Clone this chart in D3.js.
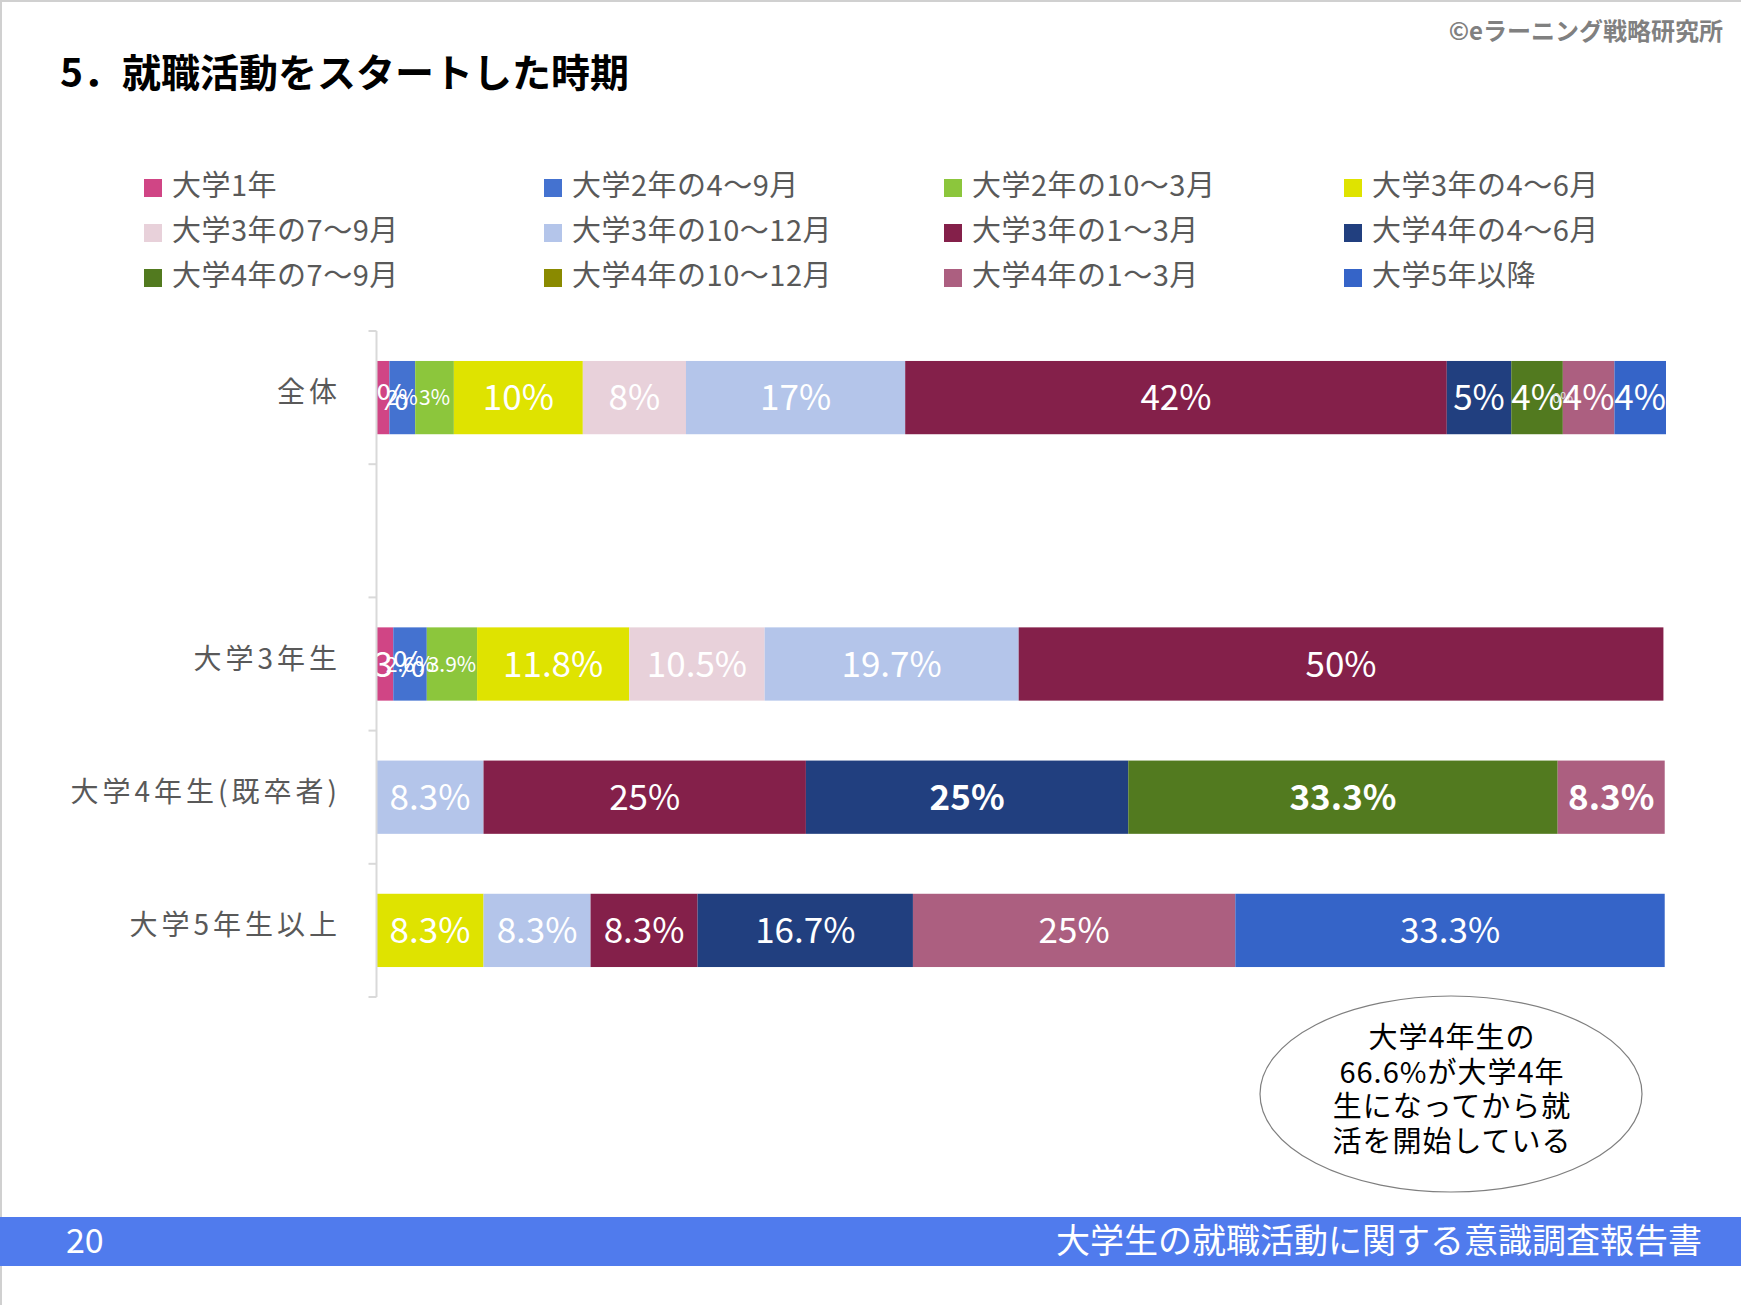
<!DOCTYPE html>
<html>
<head>
<meta charset="utf-8">
<script src="https://cdn.jsdelivr.net/npm/d3@7"></script>
<style>
  body { margin: 0; background: #fff; }
  svg { display: block; font-family: "Noto Sans CJK JP", "Noto Sans", sans-serif; }
</style>
</head>
<body>
<div id="chart"></div>
<script>
// categories (empty slot between 全体 and 大学3年生)
const categories = ['全体', '', '大学3年生', '大学4年生(既卒者)', '大学5年生以上'];

const seriesNames = [
  '大学1年', '大学2年の4～9月', '大学2年の10～3月', '大学3年の4～6月',
  '大学3年の7～9月', '大学3年の10～12月', '大学3年の1～3月', '大学4年の4～6月',
  '大学4年の7～9月', '大学4年の10～12月', '大学4年の1～3月', '大学5年以降'
];

const seriesColors = [
  '#d04585', '#4472d0', '#8cc63c', '#dfe300',
  '#e8d1da', '#b4c5ea', '#84204a', '#213f7f',
  '#527a1f', '#8a8a00', '#ac5f80', '#3564c8'
];

// percentages per category, in series order (null = no value)
const allValues   = [1, 2, 3, 10, 8, 17, 42, 5, 4, 0, 4, 4];
const emptyValues = [null, null, null, null, null, null, null, null, null, null, null, null];
const y3Values    = [1.3, 2.6, 3.9, 11.8, 10.5, 19.7, 50, null, null, null, null, null];
const y4Values    = [null, null, null, null, null, 8.3, 25, 25, 33.3, null, 8.3, null];
const y5Values    = [null, null, null, 8.3, null, 8.3, 8.3, 16.7, null, null, 25, 33.3];

const rowValues = [allValues, emptyValues, y3Values, y4Values, y5Values];

// labels drawn bold (category index : series index)
const boldLabels = ['3:7', '3:8', '3:10'];

const note = ['大学4年生の', '66.6%が大学4年', '生になってから就', '活を開始している'];

const W = 1741, H = 1305;
const svg = d3.select('#chart').append('svg').attr('width', W).attr('height', H);

// page border
svg.append('line').attr('x1', 0).attr('x2', W).attr('y1', 1).attr('y2', 1).attr('stroke', '#d0d0d0').attr('stroke-width', 2);
svg.append('line').attr('x1', 1).attr('x2', 1).attr('y1', 0).attr('y2', H).attr('stroke', '#d0d0d0').attr('stroke-width', 2);

// title + copyright
svg.append('text').attr('x', 60).attr('y', 87)
  .style('font-size', '39px').style('font-weight', 'bold').attr('fill', '#000')
  .text('5．就職活動をスタートした時期');
svg.append('text').attr('x', 1723).attr('y', 40).attr('text-anchor', 'end')
  .style('font-size', '24px').style('font-weight', 'bold').attr('fill', '#808080')
  .text('©eラーニング戦略研究所');

// legend
const legend = svg.append('g');
seriesNames.forEach((name, i) => {
  const col = i % 4, row = Math.floor(i / 4);
  const lg = legend.append('g').attr('transform', `translate(${144 + col * 400},${186 + row * 45})`);
  lg.append('rect').attr('x', 0).attr('y', -7).attr('width', 18).attr('height', 18).attr('fill', seriesColors[i]);
  lg.append('text').attr('x', 28).attr('y', 0).attr('dy', '0.35em')
    .style('font-size', '29px').style('letter-spacing', '0.5px').attr('fill', '#595959').text(name);
});

// scales
const plotLeft = 376.5, plotRight = 1666;
const x = d3.scaleLinear().domain([0, 100]).range([plotLeft, plotRight]);
const y = d3.scaleBand().domain(categories).range([331, 997]).paddingInner(0.45).paddingOuter(0.225);

// stacked table
const table = categories.map((c, ci) => {
  const o = { cat: c };
  seriesNames.forEach((s, si) => { o[s] = rowValues[ci][si] || 0; });
  return o;
});
const stacked = d3.stack().keys(seriesNames)(table);

svg.append('clipPath').attr('id', 'plotclip')
  .append('rect').attr('x', plotLeft).attr('y', 300).attr('width', W - plotLeft).attr('height', 720);

const plot = svg.append('g');
stacked.forEach((layer, si) => {
  layer.forEach((d, ci) => {
    const v = rowValues[ci][si];
    if (v == null || v === 0) return;
    plot.append('rect')
      .attr('x', x(d[0])).attr('y', y(categories[ci]))
      .attr('width', x(d[1]) - x(d[0])).attr('height', y.bandwidth())
      .attr('fill', seriesColors[si]);
  });
});

// data labels
const labels = svg.append('g').attr('clip-path', 'url(#plotclip)');
stacked.forEach((layer, si) => {
  layer.forEach((d, ci) => {
    const v = rowValues[ci][si];
    if (v == null) return;
    let size = 35;
    if (v === 0) size = 14;
    else if (v >= 1.5 && v < 4) size = 21;
    const bold = boldLabels.includes(ci + ':' + si);
    labels.append('text')
      .attr('x', (x(d[0]) + x(d[1])) / 2)
      .attr('y', y(categories[ci]) + y.bandwidth() / 2)
      .attr('dy', '0.36em').attr('text-anchor', 'middle')
      .style('font-size', size + 'px').style('font-weight', bold ? 'bold' : 'normal')
      .attr('fill', v === 0 ? '#e0e0e0' : '#fff')
      .text(v + '%');
  });
});

// category axis
const axis = svg.append('g');
axis.append('line').attr('x1', plotLeft).attr('x2', plotLeft).attr('y1', 331).attr('y2', 997)
  .attr('stroke', '#d9d9d9').attr('stroke-width', 2);
d3.range(categories.length + 1).forEach(i => {
  const ty = 331 + i * y.step();
  axis.append('line').attr('x1', plotLeft - 8).attr('x2', plotLeft).attr('y1', ty).attr('y2', ty)
    .attr('stroke', '#d9d9d9').attr('stroke-width', 2);
});
categories.forEach(c => {
  axis.append('text').attr('x', 341).attr('y', y(c) + y.bandwidth() / 2 - 5)
    .attr('dy', '0.35em').attr('text-anchor', 'end')
    .style('font-size', '28px').style('letter-spacing', '4px').attr('fill', '#595959').text(c);
});

// note ellipse
svg.append('ellipse').attr('cx', 1451).attr('cy', 1094).attr('rx', 191).attr('ry', 98)
  .attr('fill', '#fff').attr('stroke', '#7f7f7f').attr('stroke-width', 1.2);
note.forEach((t, i) => {
  svg.append('text').attr('x', 1452).attr('y', 1038 + i * 34.5).attr('dy', '0.35em')
    .attr('text-anchor', 'middle').style('font-size', '29px').style('letter-spacing', '1px')
    .attr('fill', '#000').text(t);
});

// footer
svg.append('rect').attr('x', 0).attr('y', 1217).attr('width', W).attr('height', 49).attr('fill', '#507bed');
svg.append('text').attr('x', 66).attr('y', 1241).attr('dy', '0.36em')
  .style('font-size', '34px').attr('fill', '#fff').text('20');
svg.append('text').attr('x', 1702).attr('y', 1241).attr('dy', '0.36em').attr('text-anchor', 'end')
  .style('font-size', '34px').attr('fill', '#fff').text('大学生の就職活動に関する意識調査報告書');
</script>
</body>
</html>
